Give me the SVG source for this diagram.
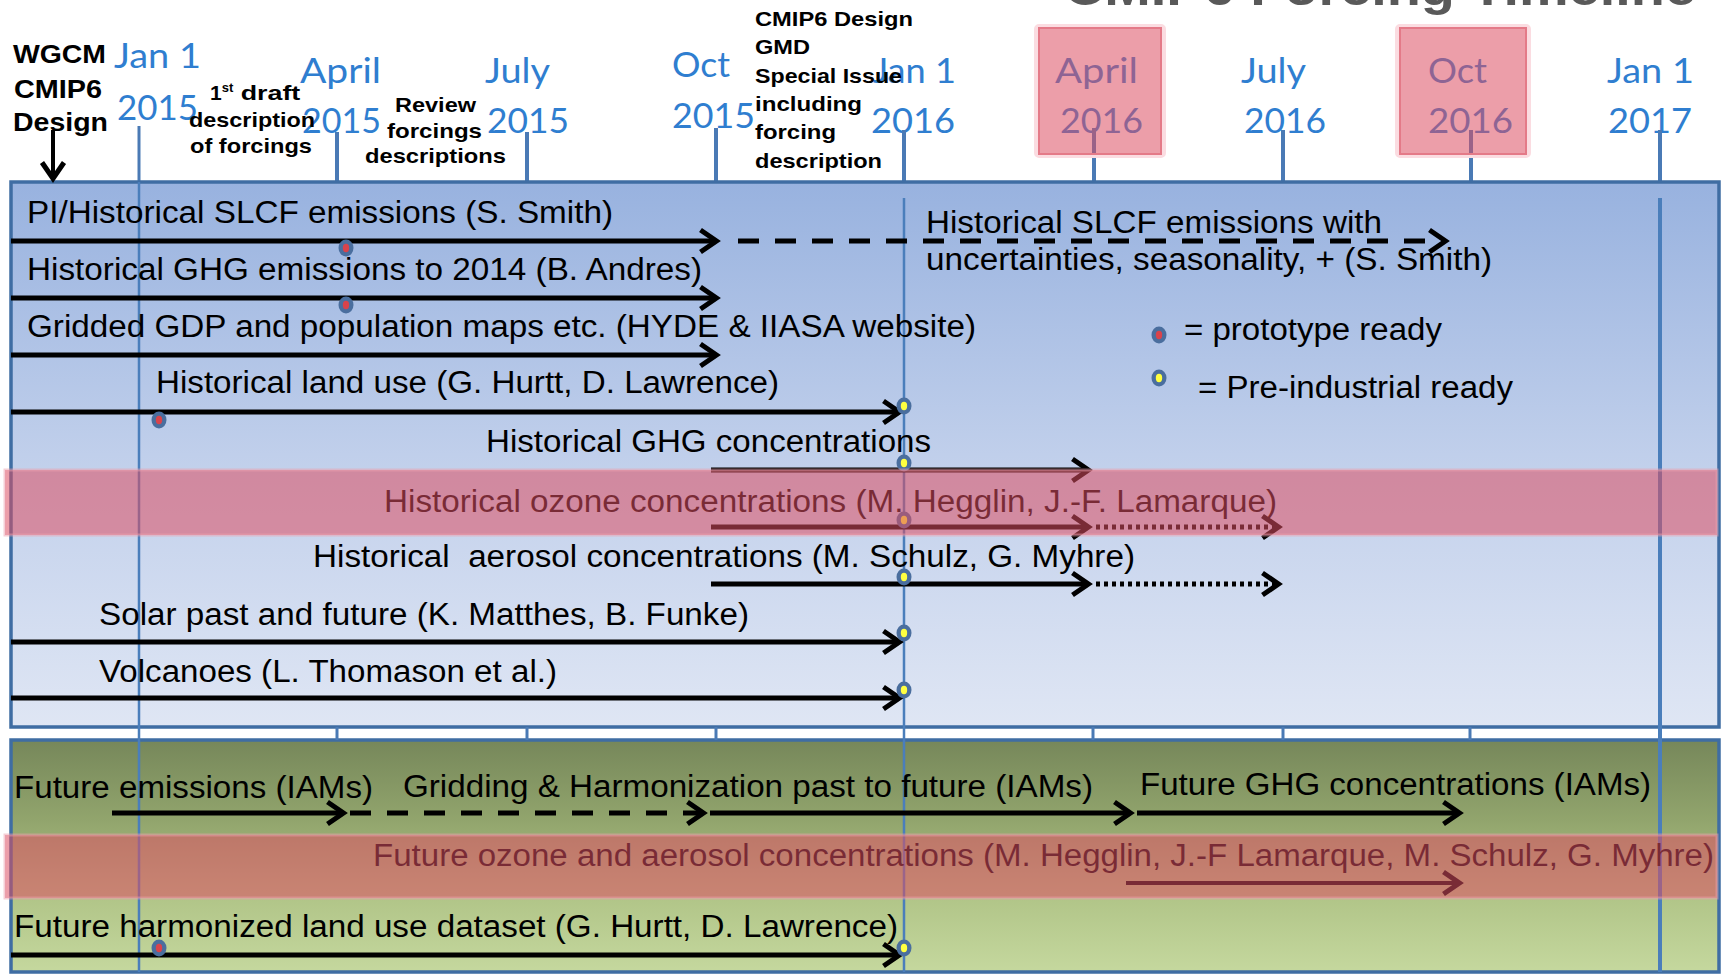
<svg xmlns="http://www.w3.org/2000/svg" width="1721" height="974" viewBox="0 0 1721 974">
<defs>
  <linearGradient id="gBlue" x1="0" y1="0" x2="0" y2="1">
    <stop offset="0" stop-color="#98B2DF"/>
    <stop offset="0.5" stop-color="#C0CFEB"/>
    <stop offset="1" stop-color="#DFE6F4"/>
  </linearGradient>
  <linearGradient id="gGreen" x1="0" y1="0" x2="0" y2="1">
    <stop offset="0" stop-color="#76875A"/>
    <stop offset="0.35" stop-color="#92A56D"/>
    <stop offset="0.65" stop-color="#AFC386"/>
    <stop offset="1" stop-color="#C5D89E"/>
  </linearGradient>
  <marker id="ah" markerUnits="userSpaceOnUse" markerWidth="32" markerHeight="30" viewBox="0 0 32 30" refX="19.5" refY="15" orient="auto" overflow="visible">
    <path d="M4,4 L20,15 L4,26" fill="none" stroke="#000" stroke-width="5"/>
  </marker>
  <g id="rdot"><ellipse rx="7.5" ry="8.5" fill="#4A6E9E"/><ellipse rx="3.2" ry="4.2" fill="#D9434B"/></g>
  <g id="ydot"><ellipse rx="7.5" ry="8.5" fill="#4A6E9E"/><ellipse rx="3.2" ry="4.2" fill="#FFFF40"/></g>
</defs>
<style>
  .date{font-family:Lato,"Open Sans","Liberation Sans",sans-serif;font-size:34px;fill:#2F7ED0}
  .hdr{font-family:"Liberation Sans",Arial,sans-serif;font-weight:bold;font-size:21px;fill:#000}
  .big{font-family:"Liberation Sans",Arial,sans-serif;font-weight:bold;font-size:26px;fill:#000}
  .row{font-family:"Liberation Sans",Arial,sans-serif;font-size:31px;fill:#000}
  .tick{stroke:#4A7AB5;stroke-width:4}
  .vl{stroke:#4A7EBB;stroke-width:2.5}
  .arr{stroke:#000;stroke-width:5;fill:none;marker-end:url(#ah)}
  .dash{stroke-dasharray:21 16}
  .dots{stroke-dasharray:4 4}
  .band{fill:#DD4E62;fill-opacity:0.55;stroke:#EBA0AE;stroke-opacity:0.5;stroke-width:3}
  .box{fill:#DD4E62;fill-opacity:0.55;stroke:#E47A88;stroke-width:2}
  .halo{fill:none;stroke:#FBDCE1;stroke-width:4}
  .panel{stroke:#3F6DA3;stroke-width:3.5}
</style>
<rect x="0" y="0" width="1721" height="974" fill="#FFFFFF"/>

<g id="title">
  <text x="1064" y="5" font-family="'Liberation Sans',Arial,sans-serif" font-weight="bold" font-size="50" fill="#595959" textLength="632" lengthAdjust="spacingAndGlyphs">CMIP6 Forcing Timeline</text>
</g>

<g id="dates">
  <g id="d-jan2015"><text class="date" x="114" y="68" textLength="87" lengthAdjust="spacingAndGlyphs">Jan 1</text><text class="date" x="117" y="120" textLength="81" lengthAdjust="spacingAndGlyphs">2015</text></g>
  <g id="d-apr2015"><text class="date" x="300" y="83" textLength="81" lengthAdjust="spacingAndGlyphs">April</text><text class="date" x="302" y="133" textLength="79" lengthAdjust="spacingAndGlyphs">2015</text></g>
  <g id="d-jul2015"><text class="date" x="485" y="83" textLength="65" lengthAdjust="spacingAndGlyphs">July</text><text class="date" x="487" y="133" textLength="82" lengthAdjust="spacingAndGlyphs">2015</text></g>
  <g id="d-oct2015"><text class="date" x="672" y="77" textLength="58" lengthAdjust="spacingAndGlyphs">Oct</text><text class="date" x="672" y="128" textLength="83" lengthAdjust="spacingAndGlyphs">2015</text></g>
  <g id="d-jan2016"><text class="date" x="873" y="83" textLength="83" lengthAdjust="spacingAndGlyphs">Jan 1</text><text class="date" x="871" y="133" textLength="84" lengthAdjust="spacingAndGlyphs">2016</text></g>
  <g id="d-apr2016"><text class="date" x="1055" y="83" textLength="83" lengthAdjust="spacingAndGlyphs">April</text><text class="date" x="1060" y="133" textLength="83" lengthAdjust="spacingAndGlyphs">2016</text></g>
  <g id="d-jul2016"><text class="date" x="1241" y="83" textLength="65" lengthAdjust="spacingAndGlyphs">July</text><text class="date" x="1244" y="133" textLength="82" lengthAdjust="spacingAndGlyphs">2016</text></g>
  <g id="d-oct2016"><text class="date" x="1428" y="83" textLength="59" lengthAdjust="spacingAndGlyphs">Oct</text><text class="date" x="1428" y="133" textLength="85" lengthAdjust="spacingAndGlyphs">2016</text></g>
  <g id="d-jan2017"><text class="date" x="1607" y="83" textLength="87" lengthAdjust="spacingAndGlyphs">Jan 1</text><text class="date" x="1608" y="133" textLength="84" lengthAdjust="spacingAndGlyphs">2017</text></g>
</g>

<g id="ticks">
  <line class="tick" x1="139" y1="126" x2="139" y2="182" style="stroke-width:3"/>
  <line class="tick" x1="337" y1="132" x2="337" y2="182"/>
  <line class="tick" x1="527" y1="132" x2="527" y2="182"/>
  <line class="tick" x1="716" y1="128" x2="716" y2="182"/>
  <line class="tick" x1="904" y1="130" x2="904" y2="182"/>
  <line class="tick" x1="1094" y1="128" x2="1094" y2="182"/>
  <line class="tick" x1="1283" y1="130" x2="1283" y2="182"/>
  <line class="tick" x1="1471" y1="130" x2="1471" y2="182"/>
  <line class="tick" x1="1660" y1="130" x2="1660" y2="182"/>
</g>

<g id="wgcm">
  <text class="big" x="13" y="63" textLength="93" lengthAdjust="spacingAndGlyphs">WGCM</text>
  <text class="big" x="14" y="98" textLength="88" lengthAdjust="spacingAndGlyphs">CMIP6</text>
  <text class="big" x="13" y="131" textLength="95" lengthAdjust="spacingAndGlyphs">Design</text>
</g>
<g id="draft">
  <text class="hdr" x="210" y="100">1<tspan font-size="13" dy="-8">st</tspan><tspan dy="8" textLength="67" lengthAdjust="spacingAndGlyphs"> draft</tspan></text>
  <text class="hdr" x="189" y="127" textLength="126" lengthAdjust="spacingAndGlyphs">description</text>
  <text class="hdr" x="190" y="153" textLength="122" lengthAdjust="spacingAndGlyphs">of forcings</text>
</g>
<g id="review">
  <text class="hdr" x="395" y="112" textLength="81" lengthAdjust="spacingAndGlyphs">Review</text>
  <text class="hdr" x="387" y="138" textLength="95" lengthAdjust="spacingAndGlyphs">forcings</text>
  <text class="hdr" x="365" y="163" textLength="141" lengthAdjust="spacingAndGlyphs">descriptions</text>
</g>
<g id="gmd">
  <text class="hdr" x="755" y="26" textLength="158" lengthAdjust="spacingAndGlyphs">CMIP6 Design</text>
  <text class="hdr" x="755" y="54" textLength="55" lengthAdjust="spacingAndGlyphs">GMD</text>
  <text class="hdr" x="755" y="83" textLength="147" lengthAdjust="spacingAndGlyphs">Special Issue</text>
  <text class="hdr" x="755" y="111" textLength="107" lengthAdjust="spacingAndGlyphs">including</text>
  <text class="hdr" x="755" y="139" textLength="81" lengthAdjust="spacingAndGlyphs">forcing</text>
  <text class="hdr" x="755" y="168" textLength="127" lengthAdjust="spacingAndGlyphs">description</text>
</g>

<g id="panels">
  <rect class="panel" x="11" y="182" width="1708" height="545" fill="url(#gBlue)"/>
  <rect class="panel" x="11" y="740" width="1708" height="232" fill="url(#gGreen)"/>
  <line class="tick" x1="337" y1="727" x2="337" y2="740" style="stroke-width:3"/>
  <line class="tick" x1="527" y1="727" x2="527" y2="740" style="stroke-width:3"/>
  <line class="tick" x1="716" y1="727" x2="716" y2="740" style="stroke-width:3"/>
  <line class="tick" x1="1093" y1="727" x2="1093" y2="740" style="stroke-width:3"/>
  <line class="tick" x1="1283" y1="727" x2="1283" y2="740" style="stroke-width:3"/>
  <line class="tick" x1="1470" y1="727" x2="1470" y2="740" style="stroke-width:3"/>
  <line class="vl" x1="139" y1="182" x2="139" y2="972"/>
  <line class="vl" x1="904" y1="198" x2="904" y2="972"/>
  <line class="vl" x1="1660" y1="198" x2="1660" y2="972" style="stroke-width:4"/>
</g>

<g id="rows">
  <text id="r1" class="row" x="27" y="223" textLength="586" lengthAdjust="spacingAndGlyphs">PI/Historical SLCF emissions (S. Smith)</text>
  <text id="r2" class="row" x="27" y="280" textLength="675" lengthAdjust="spacingAndGlyphs">Historical GHG emissions to 2014 (B. Andres)</text>
  <text id="r3" class="row" x="27" y="337" textLength="949" lengthAdjust="spacingAndGlyphs">Gridded GDP and population maps etc. (HYDE &amp; IIASA website)</text>
  <text id="r4" class="row" x="156" y="393" textLength="623" lengthAdjust="spacingAndGlyphs">Historical land use (G. Hurtt, D. Lawrence)</text>
  <text id="r5" class="row" x="486" y="452" textLength="445" lengthAdjust="spacingAndGlyphs">Historical GHG concentrations</text>
  <text id="r6" class="row" x="384" y="512" textLength="893" lengthAdjust="spacingAndGlyphs">Historical ozone concentrations (M. Hegglin, J.-F. Lamarque)</text>
  <text id="r7" class="row" x="313" y="567" textLength="822" lengthAdjust="spacingAndGlyphs" xml:space="preserve">Historical  aerosol concentrations (M. Schulz, G. Myhre)</text>
  <text id="r8" class="row" x="99" y="625" textLength="650" lengthAdjust="spacingAndGlyphs">Solar past and future (K. Matthes, B. Funke)</text>
  <text id="r9" class="row" x="99" y="682" textLength="458" lengthAdjust="spacingAndGlyphs">Volcanoes (L. Thomason et al.)</text>
  <g id="slcf2">
    <text class="row" x="926" y="233" textLength="456" lengthAdjust="spacingAndGlyphs">Historical SLCF emissions with</text>
    <text class="row" x="926" y="270" textLength="566" lengthAdjust="spacingAndGlyphs">uncertainties, seasonality, + (S. Smith)</text>
  </g>
  <text id="f1" class="row" x="14" y="798" textLength="359" lengthAdjust="spacingAndGlyphs">Future emissions (IAMs)</text>
  <text id="f2" class="row" x="403" y="797" textLength="690" lengthAdjust="spacingAndGlyphs">Gridding &amp; Harmonization past to future (IAMs)</text>
  <text id="f3" class="row" x="1140" y="795" textLength="511" lengthAdjust="spacingAndGlyphs">Future GHG concentrations (IAMs)</text>
  <text id="f4" class="row" x="373" y="866" textLength="1341" lengthAdjust="spacingAndGlyphs">Future ozone and aerosol concentrations (M. Hegglin, J.-F Lamarque, M. Schulz, G. Myhre)</text>
  <text id="f5" class="row" x="14" y="937" textLength="884" lengthAdjust="spacingAndGlyphs">Future harmonized land use dataset (G. Hurtt, D. Lawrence)</text>
</g>

<g id="legend">
  <use href="#rdot" x="1159" y="335"/>
  <text class="row" x="1184" y="340" textLength="258" lengthAdjust="spacingAndGlyphs">= prototype ready</text>
  <use href="#ydot" x="1159" y="378"/>
  <text class="row" x="1198" y="398" textLength="315" lengthAdjust="spacingAndGlyphs">= Pre-industrial ready</text>
</g>

<g id="connectors">
  <path class="arr" d="M53,130 V178" style="stroke-width:4"/>
  <path class="arr" d="M11,241 H716"/>
  <path class="arr dash" d="M738,241 H1445"/>
  <path class="arr" d="M11,298 H716"/>
  <path class="arr" d="M11,355 H716"/>
  <path class="arr" d="M11,412 H899"/>
  <path class="arr" d="M711,470 H1088"/>
  <path class="arr" d="M711,527 H1088"/>
  <path class="arr dots" d="M1096,527 H1278"/>
  <path class="arr" d="M711,584 H1088"/>
  <path class="arr dots" d="M1096,584 H1278"/>
  <path class="arr" d="M11,642 H899"/>
  <path class="arr" d="M11,698 H899"/>
  <path class="arr" d="M112,813 H343"/>
  <path class="arr dash" d="M350,813 H703"/>
  <path class="arr" d="M710,813 H1130"/>
  <path class="arr" d="M1137,813 H1459"/>
  <path class="arr" d="M1126,883 H1459" style="stroke-width:4"/>
  <path class="arr" d="M11,955 H899"/>
</g>

<g id="milestones">
  <use href="#rdot" x="346" y="248"/>
  <use href="#rdot" x="346" y="305"/>
  <use href="#rdot" x="159" y="420"/>
  <use href="#rdot" x="159" y="948"/>
  <use href="#ydot" x="904" y="406"/>
  <use href="#ydot" x="904" y="463"/>
  <use href="#ydot" x="904" y="520"/>
  <use href="#ydot" x="904" y="577"/>
  <use href="#ydot" x="904" y="633"/>
  <use href="#ydot" x="904" y="690"/>
  <use href="#ydot" x="904" y="948"/>
</g>

<g id="highlights">
  <rect class="band" x="5" y="470" width="1712" height="65"/>
  <rect class="band" x="5" y="835" width="1712" height="63"/>
  <rect class="halo" x="1036" y="26" width="128" height="130" rx="3"/>
  <rect class="box" x="1039" y="28" width="122" height="126"/>
  <rect class="halo" x="1397" y="26" width="132" height="130" rx="3"/>
  <rect class="box" x="1400" y="28" width="126" height="126"/>
</g>
</svg>
